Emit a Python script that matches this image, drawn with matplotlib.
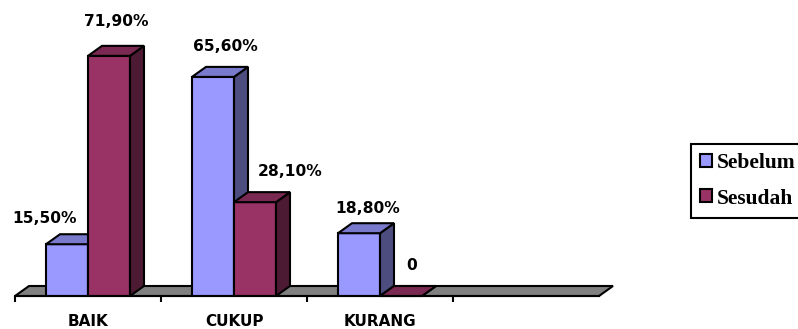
import numpy as np
import matplotlib.pyplot as plt
from matplotlib.patches import Polygon, Patch

categories = ['BAIK', 'CUKUP', 'KURANG', '']
sebelum = [15.5, 65.6, 18.8]
sesudah = [71.9, 28.1, 0.0]
sebelum_labels = ['15,50%', '65,60%', '18,80%']
sesudah_labels = ['71,90%', '28,10%', '0']

front_colors = ['#9999FF', '#993366']
top_colors = ['#7A7ACC', '#7A2952']
side_colors = ['#4D4D80', '#4D1A33']

# label nudges in pixels (excel puts them wherever)
label_dx = [[-22, 12, 9], [7, 35, 11]]
label_dy = [[26, 30, 25], [34, 31, 30]]

W, H = 798, 329
fig = plt.figure(figsize=(W / 100, H / 100), dpi=100)
ax = fig.add_axes([15 / W, 33 / H, 584 / W, 267.2 / H])
ax.set_xlim(-0.5, 3.5)
ax.set_ylim(0, 80)

px_x = 584 / 4.0      # px per category
px_y = 267.2 / 80.0   # px per percent
dx = 14 / px_x
dy = 10 / px_y

# floor
floor = Polygon([(-0.5, 0), (3.5, 0), (3.5 + dx, dy), (-0.5 + dx, dy)],
                closed=True, facecolor='#808080', edgecolor='black',
                linewidth=1.5, clip_on=False, zorder=1)
ax.add_patch(floor)

bw = 42 / px_x
x = np.arange(len(sebelum))
z = 2
for s, vals in enumerate([sebelum, sesudah]):
    xs = x - bw / 2 + s * bw
    bars = ax.bar(xs, vals, bw, color=front_colors[s], edgecolor='black',
                  linewidth=1.5, zorder=z)
    for i, b in enumerate(bars):
        x0 = b.get_x()
        x1 = x0 + b.get_width()
        h = b.get_height()
        b.set_zorder(z + 3 * i + 6 * s)
        top = Polygon([(x0, h), (x1, h), (x1 + dx, h + dy), (x0 + dx, h + dy)],
                      facecolor=top_colors[s], edgecolor='black', linewidth=1.5,
                      clip_on=False, zorder=z + 3 * i + 6 * s + 1)
        side = Polygon([(x1, 0), (x1 + dx, dy), (x1 + dx, h + dy), (x1, h)],
                       facecolor=side_colors[s], edgecolor='black', linewidth=1.5,
                       clip_on=False, zorder=z + 3 * i + 6 * s + 1)
        ax.add_patch(side)
        ax.add_patch(top)
        lab = [sebelum_labels, sesudah_labels][s][i]
        ax.annotate(lab, (x0 + bw / 2, h), xytext=(label_dx[s][i] * 0.72, label_dy[s][i] * 0.72),
                    textcoords='offset points', ha='center', va='center',
                    fontsize=11.2, fontweight='bold', annotation_clip=False, zorder=30)

for sp in ['top', 'right', 'left']:
    ax.spines[sp].set_visible(False)
ax.spines['bottom'].set_linewidth(1.5)
ax.spines['bottom'].set_zorder(40)
ax.set_yticks([])
ax.set_xticks([-0.5, 0.5, 1.5, 2.5])
ax.set_xticklabels([])
ax.tick_params(axis='x', which='major', direction='out', length=4, width=1.5)
ax.set_xticks(np.arange(len(categories)), minor=True)
ax.set_xticklabels(categories, minor=True, fontsize=11, fontweight='bold')
ax.tick_params(axis='x', which='minor', length=0, pad=13)
ax.patch.set_visible(False)

handles = [Patch(facecolor=front_colors[0], edgecolor='black', linewidth=1.5),
           Patch(facecolor=front_colors[1], edgecolor='black', linewidth=1.5)]
leg = fig.legend(handles, ['Sebelum', 'Sesudah'], loc='upper left',
                 bbox_to_anchor=(691 / W, 1 - 144 / H), borderaxespad=0,
                 prop={'family': 'Liberation Serif', 'weight': 'bold', 'size': 15.5},
                 handlelength=0.56, handleheight=0.56, handletextpad=0.2,
                 labelspacing=0.72, borderpad=0.42, fancybox=False, framealpha=1)
leg.get_frame().set_edgecolor('black')
leg.get_frame().set_linewidth(1.5)

fig.savefig('out.png', dpi=100)
